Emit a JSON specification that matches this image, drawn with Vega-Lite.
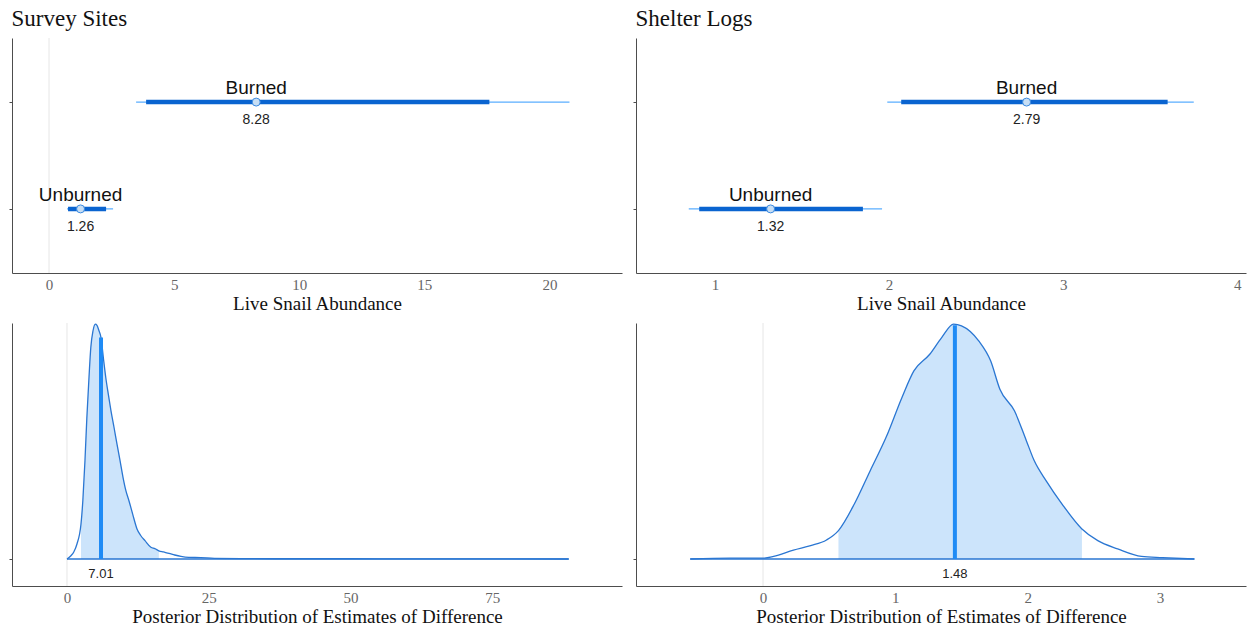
{
  "$schema": "https://vega.github.io/schema/vega-lite/v6.json",
  "background": "white",
  "padding": {"left": 8, "top": 7, "right": 4, "bottom": 2},
  "config": {
    "view": {"stroke": null},
    "axis": {"domainColor": "#4d4d4d", "domainWidth": 1, "tickColor": "#4d4d4d", "grid": false, "labelFont": "Liberation Serif", "labelFontSize": 15, "labelColor": "#666666", "titleFont": "Liberation Serif", "titleFontSize": 19, "titleFontWeight": "normal", "titleColor": "#111111"},
    "axisX": {"ticks": false, "labelPadding": 4, "titlePadding": 2, "format": "~g"},
    "axisY": {"labels": false, "tickSize": 3},
    "title": {"font": "Liberation Serif", "fontSize": 23, "fontWeight": "normal", "anchor": "start", "color": "#111111", "offset": 7, "dx": 3}
  },
  "datasets": {
    "intervals": [
      {"panel": "Survey Sites", "group": "Burned", "med": 8.28, "lo95": 3.48, "hi95": 20.8, "lo66": 3.88, "hi66": 17.6},
      {"panel": "Survey Sites", "group": "Unburned", "med": 1.26, "lo95": 0.72, "hi95": 2.56, "lo66": 0.76, "hi66": 2.28},
      {"panel": "Shelter Logs", "group": "Burned", "med": 2.79, "lo95": 1.99, "hi95": 3.75, "lo66": 2.07, "hi66": 3.6},
      {"panel": "Shelter Logs", "group": "Unburned", "med": 1.32, "lo95": 0.85, "hi95": 1.96, "lo66": 0.91, "hi66": 1.85}
    ],
    "summ": [
      {"panel": "Survey Sites", "med": 6.0, "medd": 0.943, "base": 0, "lo": 0, "hi": 88.5, "label": "7.01"},
      {"panel": "Shelter Logs", "med": 1.45, "medd": 0.995, "base": 0, "lo": -0.55, "hi": 3.26, "label": "1.48"}
    ],
    "dens": [
      {"panel": "Survey Sites", "x": 0, "d": 0, "shade": 0},
      {"panel": "Survey Sites", "x": 0.7, "d": 0.014, "shade": 0},
      {"panel": "Survey Sites", "x": 1.2, "d": 0.03, "shade": 0},
      {"panel": "Survey Sites", "x": 1.76, "d": 0.064, "shade": 0},
      {"panel": "Survey Sites", "x": 2.47, "d": 0.149, "shade": 1},
      {"panel": "Survey Sites", "x": 2.8, "d": 0.25, "shade": 1},
      {"panel": "Survey Sites", "x": 3.17, "d": 0.418, "shade": 1},
      {"panel": "Survey Sites", "x": 3.5, "d": 0.6, "shade": 1},
      {"panel": "Survey Sites", "x": 3.88, "d": 0.773, "shade": 1},
      {"panel": "Survey Sites", "x": 4.2, "d": 0.9, "shade": 1},
      {"panel": "Survey Sites", "x": 4.59, "d": 0.972, "shade": 1},
      {"panel": "Survey Sites", "x": 5.0, "d": 1.0, "shade": 1},
      {"panel": "Survey Sites", "x": 5.29, "d": 0.995, "shade": 1},
      {"panel": "Survey Sites", "x": 5.6, "d": 0.975, "shade": 1},
      {"panel": "Survey Sites", "x": 6.0, "d": 0.943, "shade": 1},
      {"panel": "Survey Sites", "x": 6.4, "d": 0.86, "shade": 1},
      {"panel": "Survey Sites", "x": 6.84, "d": 0.773, "shade": 1},
      {"panel": "Survey Sites", "x": 7.3, "d": 0.7, "shade": 1},
      {"panel": "Survey Sites", "x": 7.76, "d": 0.631, "shade": 1},
      {"panel": "Survey Sites", "x": 8.3, "d": 0.56, "shade": 1},
      {"panel": "Survey Sites", "x": 8.82, "d": 0.489, "shade": 1},
      {"panel": "Survey Sites", "x": 9.35, "d": 0.42, "shade": 1},
      {"panel": "Survey Sites", "x": 9.88, "d": 0.348, "shade": 1},
      {"panel": "Survey Sites", "x": 10.4, "d": 0.29, "shade": 1},
      {"panel": "Survey Sites", "x": 10.93, "d": 0.248, "shade": 1},
      {"panel": "Survey Sites", "x": 11.6, "d": 0.19, "shade": 1},
      {"panel": "Survey Sites", "x": 12.35, "d": 0.128, "shade": 1},
      {"panel": "Survey Sites", "x": 13.0, "d": 0.1, "shade": 1},
      {"panel": "Survey Sites", "x": 13.76, "d": 0.078, "shade": 1},
      {"panel": "Survey Sites", "x": 14.8, "d": 0.05, "shade": 1},
      {"panel": "Survey Sites", "x": 15.5, "d": 0.044, "shade": 1},
      {"panel": "Survey Sites", "x": 16.2, "d": 0.035, "shade": 1},
      {"panel": "Survey Sites", "x": 17.0, "d": 0.03, "shade": 0},
      {"panel": "Survey Sites", "x": 18.0, "d": 0.024, "shade": 0},
      {"panel": "Survey Sites", "x": 19.0, "d": 0.017, "shade": 0},
      {"panel": "Survey Sites", "x": 20.1, "d": 0.011, "shade": 0},
      {"panel": "Survey Sites", "x": 21.5, "d": 0.007, "shade": 0},
      {"panel": "Survey Sites", "x": 23.6, "d": 0.006, "shade": 0},
      {"panel": "Survey Sites", "x": 26.0, "d": 0.003, "shade": 0},
      {"panel": "Survey Sites", "x": 30.7, "d": 0.002, "shade": 0},
      {"panel": "Survey Sites", "x": 40.0, "d": 0.001, "shade": 0},
      {"panel": "Survey Sites", "x": 50.0, "d": 0.001, "shade": 0},
      {"panel": "Survey Sites", "x": 60.0, "d": 0.0005, "shade": 0},
      {"panel": "Survey Sites", "x": 75.0, "d": 0.0005, "shade": 0},
      {"panel": "Survey Sites", "x": 88.5, "d": 0, "shade": 0},
      {"panel": "Shelter Logs", "x": -0.55, "d": 0, "shade": 0},
      {"panel": "Shelter Logs", "x": -0.25, "d": 0.004, "shade": 0},
      {"panel": "Shelter Logs", "x": 0.01, "d": 0.004, "shade": 0},
      {"panel": "Shelter Logs", "x": 0.08, "d": 0.011, "shade": 0},
      {"panel": "Shelter Logs", "x": 0.23, "d": 0.038, "shade": 0},
      {"panel": "Shelter Logs", "x": 0.36, "d": 0.057, "shade": 0},
      {"panel": "Shelter Logs", "x": 0.48, "d": 0.081, "shade": 0},
      {"panel": "Shelter Logs", "x": 0.57, "d": 0.121, "shade": 1},
      {"panel": "Shelter Logs", "x": 0.69, "d": 0.234, "shade": 1},
      {"panel": "Shelter Logs", "x": 0.81, "d": 0.376, "shade": 1},
      {"panel": "Shelter Logs", "x": 0.93, "d": 0.518, "shade": 1},
      {"panel": "Shelter Logs", "x": 1.05, "d": 0.688, "shade": 1},
      {"panel": "Shelter Logs", "x": 1.14, "d": 0.801, "shade": 1},
      {"panel": "Shelter Logs", "x": 1.26, "d": 0.872, "shade": 1},
      {"panel": "Shelter Logs", "x": 1.35, "d": 0.943, "shade": 1},
      {"panel": "Shelter Logs", "x": 1.44, "d": 1.0, "shade": 1},
      {"panel": "Shelter Logs", "x": 1.5, "d": 0.993, "shade": 1},
      {"panel": "Shelter Logs", "x": 1.63, "d": 0.929, "shade": 1},
      {"panel": "Shelter Logs", "x": 1.72, "d": 0.844, "shade": 1},
      {"panel": "Shelter Logs", "x": 1.79, "d": 0.723, "shade": 1},
      {"panel": "Shelter Logs", "x": 1.9, "d": 0.631, "shade": 1},
      {"panel": "Shelter Logs", "x": 1.99, "d": 0.504, "shade": 1},
      {"panel": "Shelter Logs", "x": 2.05, "d": 0.418, "shade": 1},
      {"panel": "Shelter Logs", "x": 2.14, "d": 0.333, "shade": 1},
      {"panel": "Shelter Logs", "x": 2.26, "d": 0.234, "shade": 1},
      {"panel": "Shelter Logs", "x": 2.41, "d": 0.128, "shade": 1},
      {"panel": "Shelter Logs", "x": 2.53, "d": 0.078, "shade": 0},
      {"panel": "Shelter Logs", "x": 2.68, "d": 0.043, "shade": 0},
      {"panel": "Shelter Logs", "x": 2.86, "d": 0.011, "shade": 0},
      {"panel": "Shelter Logs", "x": 3.02, "d": 0.006, "shade": 0},
      {"panel": "Shelter Logs", "x": 3.26, "d": 0, "shade": 0}
    ]
  },
  "columns": 2,
  "spacing": {"row": 50, "column": 14},
  "bounds": "flush",
  "concat": [
    {
      "width": 610, "height": 235,
      "title": "Survey Sites",
      "layer": [
        {"data": {"values": [{"ref": 0}]}, "mark": {"type": "rule", "color": "#e6e6e6", "strokeWidth": 1}, "encoding": {"x": {"field": "ref", "type": "quantitative", "scale": {"domain": [-1.48, 22.9], "nice": false, "zero": false}, "axis": {"values": [0, 5, 10, 15, 20], "title": "Live Snail Abundance"}}}},
        {"data": {"name": "intervals"}, "transform": [{"filter": "datum.panel == 'Survey Sites'"}], "mark": {"type": "rule", "color": "#5aaeff", "strokeWidth": 1.2}, "encoding": {"x": {"field": "lo95", "type": "quantitative"}, "x2": {"field": "hi95"}, "y": {"field": "group", "type": "nominal", "scale": {"type": "point", "padding": 0.6}, "axis": {"labels": false, "title": null}}}},
        {"data": {"name": "intervals"}, "transform": [{"filter": "datum.panel == 'Survey Sites'"}], "mark": {"type": "rule", "color": "#0a64d0", "strokeWidth": 4.5}, "encoding": {"x": {"field": "lo66", "type": "quantitative"}, "x2": {"field": "hi66"}, "y": {"field": "group", "type": "nominal"}}},
        {"data": {"name": "intervals"}, "transform": [{"filter": "datum.panel == 'Survey Sites'"}], "mark": {"type": "circle", "size": 64, "color": "#c7def4", "stroke": "#3b8ae0", "strokeWidth": 1, "opacity": 1}, "encoding": {"x": {"field": "med", "type": "quantitative"}, "y": {"field": "group", "type": "nominal"}}},
        {"data": {"name": "intervals"}, "transform": [{"filter": "datum.panel == 'Survey Sites'"}], "mark": {"type": "text", "font": "Liberation Sans", "fontSize": 19, "color": "#111111", "baseline": "alphabetic", "dy": -8}, "encoding": {"x": {"field": "med", "type": "quantitative"}, "y": {"field": "group", "type": "nominal"}, "text": {"field": "group", "type": "nominal"}}},
        {"data": {"name": "intervals"}, "transform": [{"filter": "datum.panel == 'Survey Sites'"}], "mark": {"type": "text", "font": "Liberation Sans", "fontSize": 14, "color": "#222222", "baseline": "alphabetic", "dy": 22}, "encoding": {"x": {"field": "med", "type": "quantitative"}, "y": {"field": "group", "type": "nominal"}, "text": {"field": "med", "type": "quantitative", "format": ".2f"}}}
      ]
    },
    {
      "width": 610, "height": 235,
      "title": "Shelter Logs",
      "layer": [
        {"data": {"name": "intervals"}, "transform": [{"filter": "datum.panel == 'Shelter Logs'"}], "mark": {"type": "rule", "color": "#5aaeff", "strokeWidth": 1.2}, "encoding": {"x": {"field": "lo95", "type": "quantitative", "scale": {"domain": [0.547, 4.05], "nice": false, "zero": false}, "axis": {"values": [1, 2, 3, 4], "title": "Live Snail Abundance"}}, "x2": {"field": "hi95"}, "y": {"field": "group", "type": "nominal", "scale": {"type": "point", "padding": 0.6}, "axis": {"labels": false, "title": null}}}},
        {"data": {"name": "intervals"}, "transform": [{"filter": "datum.panel == 'Shelter Logs'"}], "mark": {"type": "rule", "color": "#0a64d0", "strokeWidth": 4.5}, "encoding": {"x": {"field": "lo66", "type": "quantitative"}, "x2": {"field": "hi66"}, "y": {"field": "group", "type": "nominal"}}},
        {"data": {"name": "intervals"}, "transform": [{"filter": "datum.panel == 'Shelter Logs'"}], "mark": {"type": "circle", "size": 64, "color": "#c7def4", "stroke": "#3b8ae0", "strokeWidth": 1, "opacity": 1}, "encoding": {"x": {"field": "med", "type": "quantitative"}, "y": {"field": "group", "type": "nominal"}}},
        {"data": {"name": "intervals"}, "transform": [{"filter": "datum.panel == 'Shelter Logs'"}], "mark": {"type": "text", "font": "Liberation Sans", "fontSize": 19, "color": "#111111", "baseline": "alphabetic", "dy": -8}, "encoding": {"x": {"field": "med", "type": "quantitative"}, "y": {"field": "group", "type": "nominal"}, "text": {"field": "group", "type": "nominal"}}},
        {"data": {"name": "intervals"}, "transform": [{"filter": "datum.panel == 'Shelter Logs'"}], "mark": {"type": "text", "font": "Liberation Sans", "fontSize": 14, "color": "#222222", "baseline": "alphabetic", "dy": 22}, "encoding": {"x": {"field": "med", "type": "quantitative"}, "y": {"field": "group", "type": "nominal"}, "text": {"field": "med", "type": "quantitative", "format": ".2f"}}}
      ]
    },
    {
      "width": 610, "height": 263,
      "layer": [
        {"data": {"values": [{"ref": 0}]}, "mark": {"type": "rule", "color": "#e6e6e6", "strokeWidth": 1}, "encoding": {"x": {"field": "ref", "type": "quantitative", "scale": {"domain": [-9.7, 97.9], "nice": false, "zero": false}, "axis": {"values": [0, 25, 50, 75], "title": "Posterior Distribution of Estimates of Difference"}}}},
        {"data": {"name": "dens"}, "transform": [{"filter": "datum.panel == 'Survey Sites' && datum.shade == 1"}], "mark": {"type": "area", "color": "#cce4fb", "opacity": 1, "interpolate": "monotone"}, "encoding": {"x": {"field": "x", "type": "quantitative"}, "y": {"field": "d", "type": "quantitative", "scale": {"domain": [-0.115, 1.005], "nice": false, "zero": false}, "axis": {"values": [0], "labels": false, "title": null}}}},
        {"data": {"name": "summ"}, "transform": [{"filter": "datum.panel == 'Survey Sites'"}], "mark": {"type": "rule", "color": "#2a76d2", "strokeWidth": 1.3}, "encoding": {"x": {"field": "lo", "type": "quantitative"}, "x2": {"field": "hi"}, "y": {"field": "base", "type": "quantitative"}}},
        {"data": {"name": "dens"}, "transform": [{"filter": "datum.panel == 'Survey Sites'"}], "mark": {"type": "line", "color": "#2a76d2", "strokeWidth": 1.3, "interpolate": "monotone"}, "encoding": {"x": {"field": "x", "type": "quantitative"}, "y": {"field": "d", "type": "quantitative"}}},
        {"data": {"name": "summ"}, "transform": [{"filter": "datum.panel == 'Survey Sites'"}], "mark": {"type": "rule", "color": "#1f8bf5", "strokeWidth": 4}, "encoding": {"x": {"field": "med", "type": "quantitative"}, "y": {"field": "base", "type": "quantitative"}, "y2": {"field": "medd"}}},
        {"data": {"name": "summ"}, "transform": [{"filter": "datum.panel == 'Survey Sites'"}], "mark": {"type": "text", "font": "Liberation Sans", "fontSize": 13, "color": "#222222", "baseline": "alphabetic", "dy": 19}, "encoding": {"x": {"field": "med", "type": "quantitative"}, "y": {"field": "base", "type": "quantitative"}, "text": {"field": "label", "type": "nominal"}}}
      ]
    },
    {
      "width": 610, "height": 263,
      "layer": [
        {"data": {"values": [{"ref": 0}]}, "mark": {"type": "rule", "color": "#e6e6e6", "strokeWidth": 1}, "encoding": {"x": {"field": "ref", "type": "quantitative", "scale": {"domain": [-0.96, 3.65], "nice": false, "zero": false}, "axis": {"values": [0, 1, 2, 3], "title": "Posterior Distribution of Estimates of Difference"}}}},
        {"data": {"name": "dens"}, "transform": [{"filter": "datum.panel == 'Shelter Logs' && datum.shade == 1"}], "mark": {"type": "area", "color": "#cce4fb", "opacity": 1, "interpolate": "monotone"}, "encoding": {"x": {"field": "x", "type": "quantitative"}, "y": {"field": "d", "type": "quantitative", "scale": {"domain": [-0.115, 1.005], "nice": false, "zero": false}, "axis": {"values": [0], "labels": false, "title": null}}}},
        {"data": {"name": "summ"}, "transform": [{"filter": "datum.panel == 'Shelter Logs'"}], "mark": {"type": "rule", "color": "#2a76d2", "strokeWidth": 1.3}, "encoding": {"x": {"field": "lo", "type": "quantitative"}, "x2": {"field": "hi"}, "y": {"field": "base", "type": "quantitative"}}},
        {"data": {"name": "dens"}, "transform": [{"filter": "datum.panel == 'Shelter Logs'"}], "mark": {"type": "line", "color": "#2a76d2", "strokeWidth": 1.3, "interpolate": "monotone"}, "encoding": {"x": {"field": "x", "type": "quantitative"}, "y": {"field": "d", "type": "quantitative"}}},
        {"data": {"name": "summ"}, "transform": [{"filter": "datum.panel == 'Shelter Logs'"}], "mark": {"type": "rule", "color": "#1f8bf5", "strokeWidth": 4}, "encoding": {"x": {"field": "med", "type": "quantitative"}, "y": {"field": "base", "type": "quantitative"}, "y2": {"field": "medd"}}},
        {"data": {"name": "summ"}, "transform": [{"filter": "datum.panel == 'Shelter Logs'"}], "mark": {"type": "text", "font": "Liberation Sans", "fontSize": 13, "color": "#222222", "baseline": "alphabetic", "dy": 19}, "encoding": {"x": {"field": "med", "type": "quantitative"}, "y": {"field": "base", "type": "quantitative"}, "text": {"field": "label", "type": "nominal"}}}
      ]
    }
  ]
}
